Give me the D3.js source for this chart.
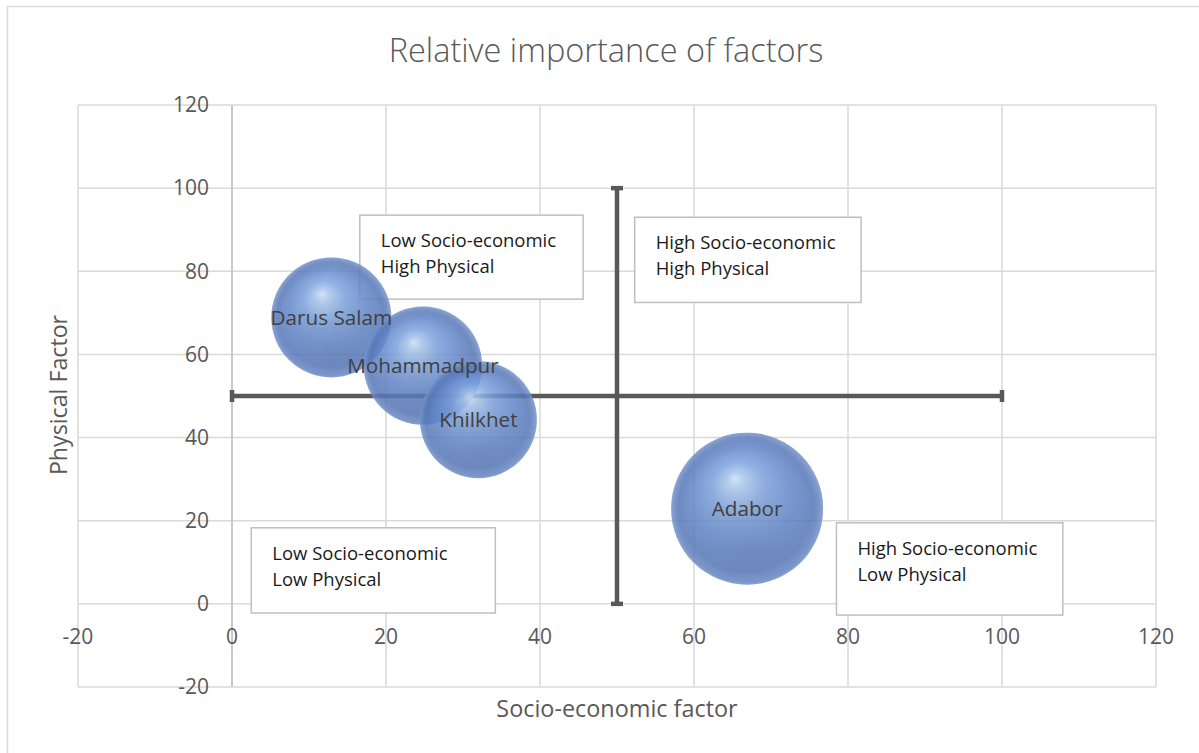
<!DOCTYPE html>
<html>
<head>
<meta charset="utf-8">
<script src="https://cdn.jsdelivr.net/npm/d3@7"></script>
<style>
  html, body { margin: 0; padding: 0; background: #fff; }
  svg { display: block; font-family: "Open Sans", "Noto Sans", sans-serif; }
</style>
</head>
<body>
<svg id="chart" width="1199" height="753"></svg>
<script>
// Bubble data: socio-economic score (x), physical score (y), bubble size
const areas = ["Darus Salam", "Mohammadpur", "Khilkhet", "Adabor"];
const socioEconomic = [12.9, 24.8, 32.0, 66.9];
const physical = [68.9, 57.3, 44.3, 22.9];
const bubbleSize = [21.2, 20.6, 20.1, 34];

// Axis ticks
const xTicks = [-20, 0, 20, 40, 60, 80, 100, 120];
const yTicks = [-20, 0, 20, 40, 60, 80, 100, 120];

// Quadrant divider (drawn as cross bars through the midpoint)
const dividerCenter = [50, 50];
const dividerSpanX = [0, 100];
const dividerSpanY = [0, 100];

// Quadrant captions
const quadrantLines = [
  ["Low Socio-economic", "High Physical"],
  ["High Socio-economic", "High Physical"],
  ["Low Socio-economic", "Low Physical"],
  ["High Socio-economic", "Low Physical"]
];

const W = 1199, H = 753;
const plot = { left: 78, right: 1156, top: 105, bottom: 687 };

const svg = d3.select("#chart");

const x = d3.scaleLinear().domain([-20, 120]).range([plot.left, plot.right]);
const y = d3.scaleLinear().domain([-20, 120]).range([plot.bottom, plot.top]);
const r = d3.scaleSqrt().domain([0, d3.max(bubbleSize)]).range([0, 76]);

// Chart frame
svg.append("rect")
  .attr("x", 7.5).attr("y", 6.5)
  .attr("width", W + 10).attr("height", H + 10)
  .attr("fill", "#fff").attr("stroke", "#d9d9d9").attr("stroke-width", 1.5);

// Gradients for the 3-D bubble look
const defs = svg.append("defs");
const ball = defs.append("radialGradient")
  .attr("id", "ball").attr("cx", "50%").attr("cy", "50%").attr("r", "50%")
  .attr("fx", "42%").attr("fy", "30%");
[
  [0, "#d6ecfc"], [0.12, "#aecdf3"], [0.35, "#80a6e2"],
  [0.65, "#6489cd"], [0.88, "#5677b8"], [1, "#6a8ac6"]
].forEach(([o, c]) => ball.append("stop").attr("offset", o).attr("stop-color", c));

const shade = defs.append("radialGradient")
  .attr("id", "shade").attr("cx", "50%").attr("cy", "50%").attr("r", "50%")
  .attr("fx", "50%").attr("fy", "78%");
[
  [0, "#2c3f66", 0.22], [0.45, "#2c3f66", 0.12], [0.85, "#2c3f66", 0.0], [1, "#9db8e6", 0.25]
].forEach(([o, c, a]) => shade.append("stop").attr("offset", o).attr("stop-color", c).attr("stop-opacity", a));

// Gridlines
const grid = svg.append("g").attr("stroke", "#d9d9d9").attr("stroke-width", 1.5);
grid.selectAll("line.v").data(xTicks).join("line")
  .attr("x1", d => x(d)).attr("x2", d => x(d))
  .attr("y1", plot.top).attr("y2", plot.bottom);
grid.selectAll("line.h").data(yTicks).join("line")
  .attr("y1", d => y(d)).attr("y2", d => y(d))
  .attr("x1", plot.left).attr("x2", plot.right);

// Vertical value axis sits at x = 0
svg.append("line")
  .attr("x1", x(0)).attr("x2", x(0))
  .attr("y1", plot.top).attr("y2", plot.bottom)
  .attr("stroke", "#bfbfbf").attr("stroke-width", 1.5);

// Tick labels
const tickColor = "#595959";
svg.append("g").selectAll("text").data(yTicks).join("text")
  .attr("x", x(0) - 23).attr("y", d => y(d))
  .attr("dy", "0.35em").attr("text-anchor", "end")
  .attr("font-size", 21).attr("fill", tickColor)
  .text(d => d);
svg.append("g").selectAll("text").data(xTicks).join("text")
  .attr("x", d => x(d)).attr("y", y(-8))
  .attr("dy", "0.35em").attr("text-anchor", "middle")
  .attr("font-size", 21).attr("fill", tickColor)
  .text(d => d);

// Title and axis titles
svg.append("text")
  .attr("x", 606).attr("y", 62).attr("text-anchor", "middle")
  .attr("font-size", 32.5).attr("font-weight", 300).attr("fill", "#595959")
  .text("Relative importance of factors");
svg.append("text")
  .attr("x", 617).attr("y", 717).attr("text-anchor", "middle")
  .attr("font-size", 23.4).attr("fill", "#595959")
  .text("Socio-economic factor");
svg.append("text")
  .attr("transform", `translate(67, 395) rotate(-90)`)
  .attr("text-anchor", "middle")
  .attr("font-size", 23.2).attr("fill", "#595959")
  .text("Physical Factor");

// Quadrant divider bars with end caps
const divider = svg.append("g").attr("stroke", "#595959").attr("stroke-width", 4.5);
divider.append("line")
  .attr("x1", x(dividerSpanX[0])).attr("x2", x(dividerSpanX[1]))
  .attr("y1", y(dividerCenter[1])).attr("y2", y(dividerCenter[1]));
divider.append("line")
  .attr("x1", x(dividerCenter[0])).attr("x2", x(dividerCenter[0]))
  .attr("y1", y(dividerSpanY[0])).attr("y2", y(dividerSpanY[1]));
dividerSpanX.forEach(v => divider.append("line")
  .attr("x1", x(v)).attr("x2", x(v))
  .attr("y1", y(dividerCenter[1]) - 6).attr("y2", y(dividerCenter[1]) + 6));
dividerSpanY.forEach(v => divider.append("line")
  .attr("y1", y(v)).attr("y2", y(v))
  .attr("x1", x(dividerCenter[0]) - 6).attr("x2", x(dividerCenter[0]) + 6));

// Quadrant caption boxes, anchored in data units
const boxFrames = [
  { x0: 16.6, x1: 45.6, y0: 93.5, y1: 73.3 },
  { x0: 52.3, x1: 81.7, y0: 93.0, y1: 72.5 },
  { x0: 2.5, x1: 34.2, y0: 18.3, y1: -2.2 },
  { x0: 78.5, x1: 107.9, y0: 19.5, y1: -2.7 }
];
const notes = svg.append("g");
boxFrames.forEach((f, i) => {
  const g = notes.append("g");
  g.append("rect")
    .attr("x", x(f.x0)).attr("y", y(f.y0))
    .attr("width", x(f.x1) - x(f.x0)).attr("height", y(f.y1) - y(f.y0))
    .attr("fill", "#fff").attr("stroke", "#bfbfbf").attr("stroke-width", 1.5);
  g.selectAll("text").data(quadrantLines[i]).join("text")
    .attr("x", x(f.x0) + 21).attr("y", (d, j) => y(f.y0) + 32 + j * 26)
    .attr("font-size", 18.5).attr("fill", "#1a1a1a")
    .text(d => d);
});

// Bubbles
const data = areas.map((name, i) => ({
  name, sx: socioEconomic[i], py: physical[i], size: bubbleSize[i]
}));
const bubbles = svg.append("g");
data.forEach(d => {
  const g = bubbles.append("g").attr("opacity", 0.85);
  g.append("circle")
    .attr("cx", x(d.sx)).attr("cy", y(d.py)).attr("r", r(d.size))
    .attr("fill", "url(#ball)");
  g.append("circle")
    .attr("cx", x(d.sx)).attr("cy", y(d.py)).attr("r", r(d.size))
    .attr("fill", "url(#shade)");
});

// Bubble labels
svg.append("g").selectAll("text").data(data).join("text")
  .attr("x", d => x(d.sx)).attr("y", d => y(d.py))
  .attr("dy", "0.35em").attr("text-anchor", "middle")
  .attr("font-size", 20.7).attr("fill", "#404040")
  .text(d => d.name);
</script>
</body>
</html>
